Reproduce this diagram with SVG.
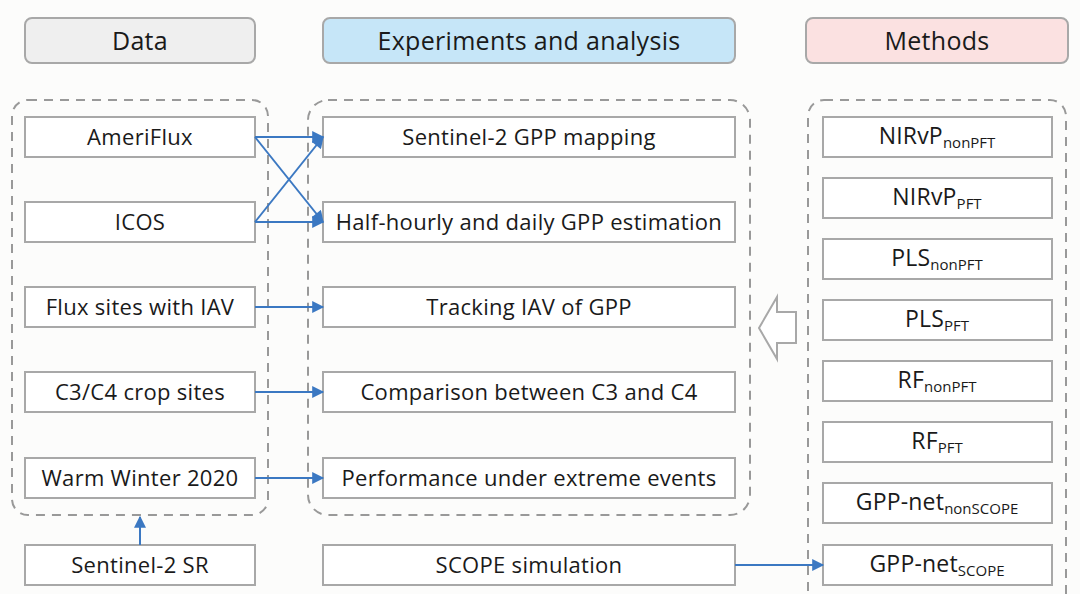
<svg xmlns="http://www.w3.org/2000/svg" width="1080" height="594" viewBox="0 0 1080 594">
<defs>
<marker id="ah" viewBox="0 0 10 10" refX="9" refY="5" markerWidth="6.5" markerHeight="6" orient="auto" markerUnits="strokeWidth">
<path d="M0,0 L10,5 L0,10 z" fill="#3b78c2"/>
</marker>
<style>
.hdr{stroke:#a8a8a8;stroke-width:2}
.cont{fill:none;stroke:#999;stroke-width:2;stroke-dasharray:9,7}
.box{fill:#fff;stroke:#a8a8a8;stroke-width:2}
.t{font-family:"Open Sans",Lato,sans-serif;font-size:22px;letter-spacing:0.3px;fill:#1a1a1a;text-anchor:middle;dominant-baseline:central}
.m{font-size:23px;letter-spacing:0.2px}
.h{font-family:"Open Sans",Lato,sans-serif;font-size:25px;letter-spacing:0.3px;fill:#1a1a1a;text-anchor:middle;dominant-baseline:central}
.s{font-size:15px;letter-spacing:0}
.c{fill:none;stroke:#3b78c2;stroke-width:2;marker-end:url(#ah)}
</style>
</defs>
<rect width="1080" height="594" fill="#fcfcfb"/>
<g id="headers">
<g id="h-data"><rect class="hdr" x="25" y="18" width="230" height="45" rx="7" fill="#efefef"/><text class="h" x="140" y="40">Data</text></g>
<g id="h-exp"><rect class="hdr" x="323" y="18" width="412" height="45" rx="7" fill="#c6e6f8"/><text class="h" x="529" y="40">Experiments and analysis</text></g>
<g id="h-meth"><rect class="hdr" x="806" y="18" width="262" height="45" rx="7" fill="#fbe1e1"/><text class="h" x="937" y="40">Methods</text></g>
</g>
<g id="containers">
<rect class="cont" x="12" y="100" width="256" height="415" rx="16"/>
<rect class="cont" x="308" y="100" width="442" height="415" rx="20"/>
<rect class="cont" x="808" y="100" width="258" height="510" rx="16"/>
</g>
<g id="data">
<g id="ameriflux"><rect class="box" x="25" y="117" width="230" height="40"/><text class="t" x="140" y="136">AmeriFlux</text></g>
<g id="icos"><rect class="box" x="25" y="202" width="230" height="40"/><text class="t" x="140" y="221">ICOS</text></g>
<g id="fluxiav"><rect class="box" x="25" y="287" width="230" height="40"/><text class="t" x="140" y="306">Flux sites with IAV</text></g>
<g id="c3c4"><rect class="box" x="25" y="372" width="230" height="40"/><text class="t" x="140" y="391">C3/C4 crop sites</text></g>
<g id="warm"><rect class="box" x="25" y="458" width="230" height="40"/><text class="t" x="140" y="477">Warm Winter 2020</text></g>
<g id="s2sr"><rect class="box" x="25" y="545" width="230" height="40"/><text class="t" x="140" y="564">Sentinel-2 SR</text></g>
</g>
<g id="experiments">
<g id="mapping"><rect class="box" x="323" y="117" width="412" height="40"/><text class="t" x="529" y="136">Sentinel-2 GPP mapping</text></g>
<g id="halfhourly"><rect class="box" x="323" y="202" width="412" height="40"/><text class="t" x="529" y="221">Half-hourly and daily GPP estimation</text></g>
<g id="tracking"><rect class="box" x="323" y="287" width="412" height="40"/><text class="t" x="529" y="306">Tracking IAV of GPP</text></g>
<g id="comparison"><rect class="box" x="323" y="372" width="412" height="40"/><text class="t" x="529" y="391">Comparison between C3 and C4</text></g>
<g id="extreme"><rect class="box" x="323" y="458" width="412" height="40"/><text class="t" x="529" y="477">Performance under extreme events</text></g>
<g id="scope"><rect class="box" x="323" y="545" width="412" height="40"/><text class="t" x="529" y="564">SCOPE simulation</text></g>
</g>
<g id="methods">
<g id="m1"><rect class="box" x="823" y="117" width="229" height="40"/><text class="t m" x="937" y="135">NIRvP<tspan class="s" dy="7">nonPFT</tspan></text></g>
<g id="m2"><rect class="box" x="823" y="178" width="229" height="40"/><text class="t m" x="937" y="196">NIRvP<tspan class="s" dy="7">PFT</tspan></text></g>
<g id="m3"><rect class="box" x="823" y="239" width="229" height="40"/><text class="t m" x="937" y="257">PLS<tspan class="s" dy="7">nonPFT</tspan></text></g>
<g id="m4"><rect class="box" x="823" y="300" width="229" height="40"/><text class="t m" x="937" y="318">PLS<tspan class="s" dy="7">PFT</tspan></text></g>
<g id="m5"><rect class="box" x="823" y="361" width="229" height="40"/><text class="t m" x="937" y="379">RF<tspan class="s" dy="7">nonPFT</tspan></text></g>
<g id="m6"><rect class="box" x="823" y="422" width="229" height="40"/><text class="t m" x="937" y="440">RF<tspan class="s" dy="7">PFT</tspan></text></g>
<g id="m7"><rect class="box" x="823" y="483" width="229" height="40"/><text class="t m" x="937" y="501">GPP-net<tspan class="s" dy="7">nonSCOPE</tspan></text></g>
<g id="m8"><rect class="box" x="823" y="545" width="229" height="40"/><text class="t m" x="937" y="563">GPP-net<tspan class="s" dy="7">SCOPE</tspan></text></g>
</g>
<g id="bigarrow">
<path d="M759,328 L777,297 L777,312 L796,312 L796,343 L777,343 L777,359 Z" fill="#fff" stroke="#a8a8a8" stroke-width="2" stroke-linejoin="miter"/>
</g>
<g id="connectors">
<line class="c" x1="255" y1="137" x2="323" y2="137"/>
<line class="c" x1="255" y1="137" x2="323" y2="222"/>
<line class="c" x1="255" y1="222" x2="323" y2="222"/>
<line class="c" x1="255" y1="222" x2="323" y2="137"/>
<line class="c" x1="255" y1="307" x2="323" y2="307"/>
<line class="c" x1="255" y1="392" x2="323" y2="392"/>
<line class="c" x1="255" y1="478" x2="323" y2="478"/>
<line class="c" x1="140" y1="545" x2="140" y2="517"/>
<line class="c" x1="735" y1="565" x2="823" y2="565"/>
</g>
</svg>
